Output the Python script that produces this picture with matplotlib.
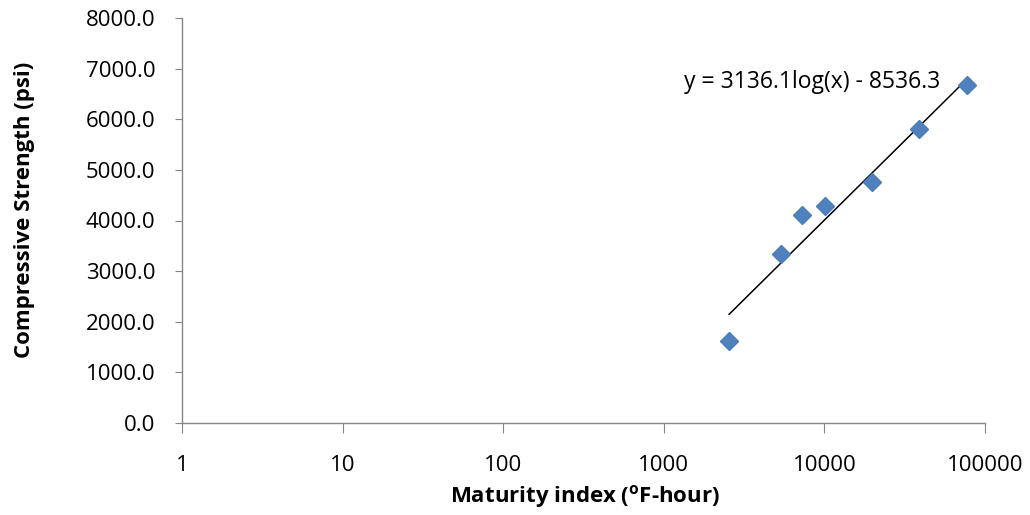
import numpy as np
import matplotlib
matplotlib.use("Agg")
import matplotlib.pyplot as plt
from matplotlib.ticker import FixedLocator, FixedFormatter

# Maturity index (°F-hour) and measured compressive strength (psi)
maturity = [2550, 5370, 7260, 10090, 19800, 38800, 77200]
strength = [1620, 3340, 4110, 4290, 4760, 5810, 6680]

# Logarithmic trend fit reported on the chart
slope = 3136.1
intercept = -8536.3

x_ticks = [1, 10, 100, 1000, 10000, 100000]
x_tick_labels = ["1", "10", "100", "1000", "10000", "100000"]
y_ticks = [0, 1000, 2000, 3000, 4000, 5000, 6000, 7000, 8000]

plt.rcParams["font.family"] = ["Open Sans", "DejaVu Sans"]
plt.rcParams["mathtext.fontset"] = "custom"
plt.rcParams["mathtext.rm"] = "Open Sans"
plt.rcParams["mathtext.bf"] = "Open Sans:bold"

W, H = 1030, 515
fig = plt.figure(figsize=(W / 100, H / 100), dpi=100)
ax = fig.add_axes([182 / W, 1 - 423 / H, (985 - 182) / W, (423 - 18) / H])

ax.set_xscale("log")
ax.set_xlim(1, 100000)
ax.set_ylim(0, 8000)

# Trend line over the span of the data
xt = np.logspace(np.log10(min(maturity)), np.log10(max(maturity)), 50)
ax.plot(xt, slope * np.log10(xt) + intercept, color="black", lw=1.1, zorder=2)

ax.plot(maturity, strength, linestyle="none", marker="D", ms=9.5,
        color="#4F81BD", mec="#4A7EBB", zorder=3)

fig.text(940 / W, 1 - 82 / H, "y = 3136.1log(x) - 8536.3",
         ha="right", va="center", fontsize=16.5, color="black")

ax.xaxis.set_major_locator(FixedLocator(x_ticks))
ax.xaxis.set_major_formatter(FixedFormatter(x_tick_labels))
ax.xaxis.set_minor_locator(FixedLocator([]))
ax.set_yticks(y_ticks)
ax.set_yticklabels([f"{v:.1f}" for v in y_ticks])

for s in ["top", "right"]:
    ax.spines[s].set_visible(False)
for s in ["left", "bottom"]:
    ax.spines[s].set_color("#868686")
    ax.spines[s].set_linewidth(1.0)

ax.tick_params(axis="y", direction="out", length=5, color="#868686",
               labelsize=16, pad=14)
ax.tick_params(axis="x", direction="out", length=7, color="#868686",
               labelsize=16, pad=16)

ax.set_ylabel("Compressive Strength (psi)", fontsize=16, fontweight="bold")
ax.yaxis.label.set_va("center")
ax.yaxis.set_label_coords((25 - 182) / (985 - 182), (423 - 210) / (423 - 18))

ax.set_xlabel(r"Maturity index ($\mathbf{^{o}}$F-hour)", fontsize=16,
              fontweight="bold")
ax.xaxis.label.set_va("center")
ax.xaxis.set_label_coords((585 - 182) / (985 - 182), (423 - 497) / (423 - 18))

fig.savefig("out.png", dpi=100, facecolor="white")
